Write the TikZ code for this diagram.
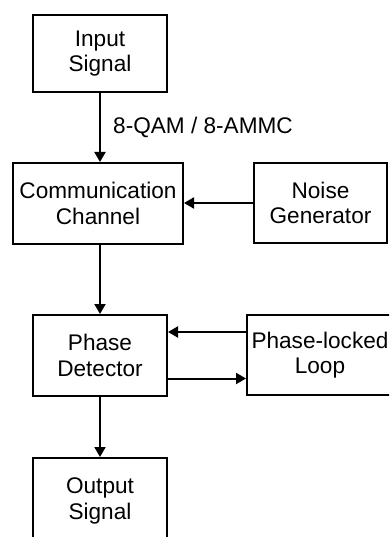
\documentclass[tikz,border=0pt]{standalone}
\usepackage{fontspec}
\setmainfont{Liberation Sans}
\usetikzlibrary{arrows.meta}
\begin{document}
\begin{tikzpicture}[x=1pt,y=-1pt,
  blk/.style={draw,line width=2pt,align=center,inner sep=0pt,
    font=\fontsize{22.6}{25.5}\selectfont},
  arr/.style={line width=2pt,-{Triangle[length=10pt,width=11pt]}},
  lbl/.style={font=\fontsize{22.6}{25.5}\selectfont,inner sep=0pt}]
\useasboundingbox (0,0) rectangle (389,537);
\clip (0,0) rectangle (389,537);
\node[blk,minimum width=134pt,minimum height=77pt] (inp) at (100,53.5) {Input\\Signal};
\node[blk,minimum width=170pt,minimum height=81pt] (chan) at (98,203.5) {Communication\\Channel};
\node[blk,minimum width=133pt,minimum height=80pt] (noise) at (320.5,203) {Noise\\Generator};
\node[blk,minimum width=134pt,minimum height=81pt] (pd) at (100,355.5) {Phase\\Detector};
\node[blk,minimum width=146pt,minimum height=80pt] (pll) at (320,355) {Phase-locked\\Loop};
\node[blk,minimum width=134pt,minimum height=86pt] (out) at (100,501) {Output\\Signal};
\node[lbl,anchor=west] (lab) at (113,127) {8-QAM / 8-AMMC};
\draw[arr] (inp.south) -- (inp.south |- chan.north);
\draw[arr] (noise.west) -- (noise.west -| chan.east);
\draw[arr] (pd.north |- chan.south) -- (pd.north);
\draw[arr] ([yshift=23pt]pll.west) -- ([yshift=23pt]pll.west -| pd.east);
\draw[arr] ([yshift=-23pt]pd.east) -- ([yshift=-23pt]pd.east -| pll.west);
\draw[arr] (pd.south) -- (out.north);
\end{tikzpicture}
\end{document}
